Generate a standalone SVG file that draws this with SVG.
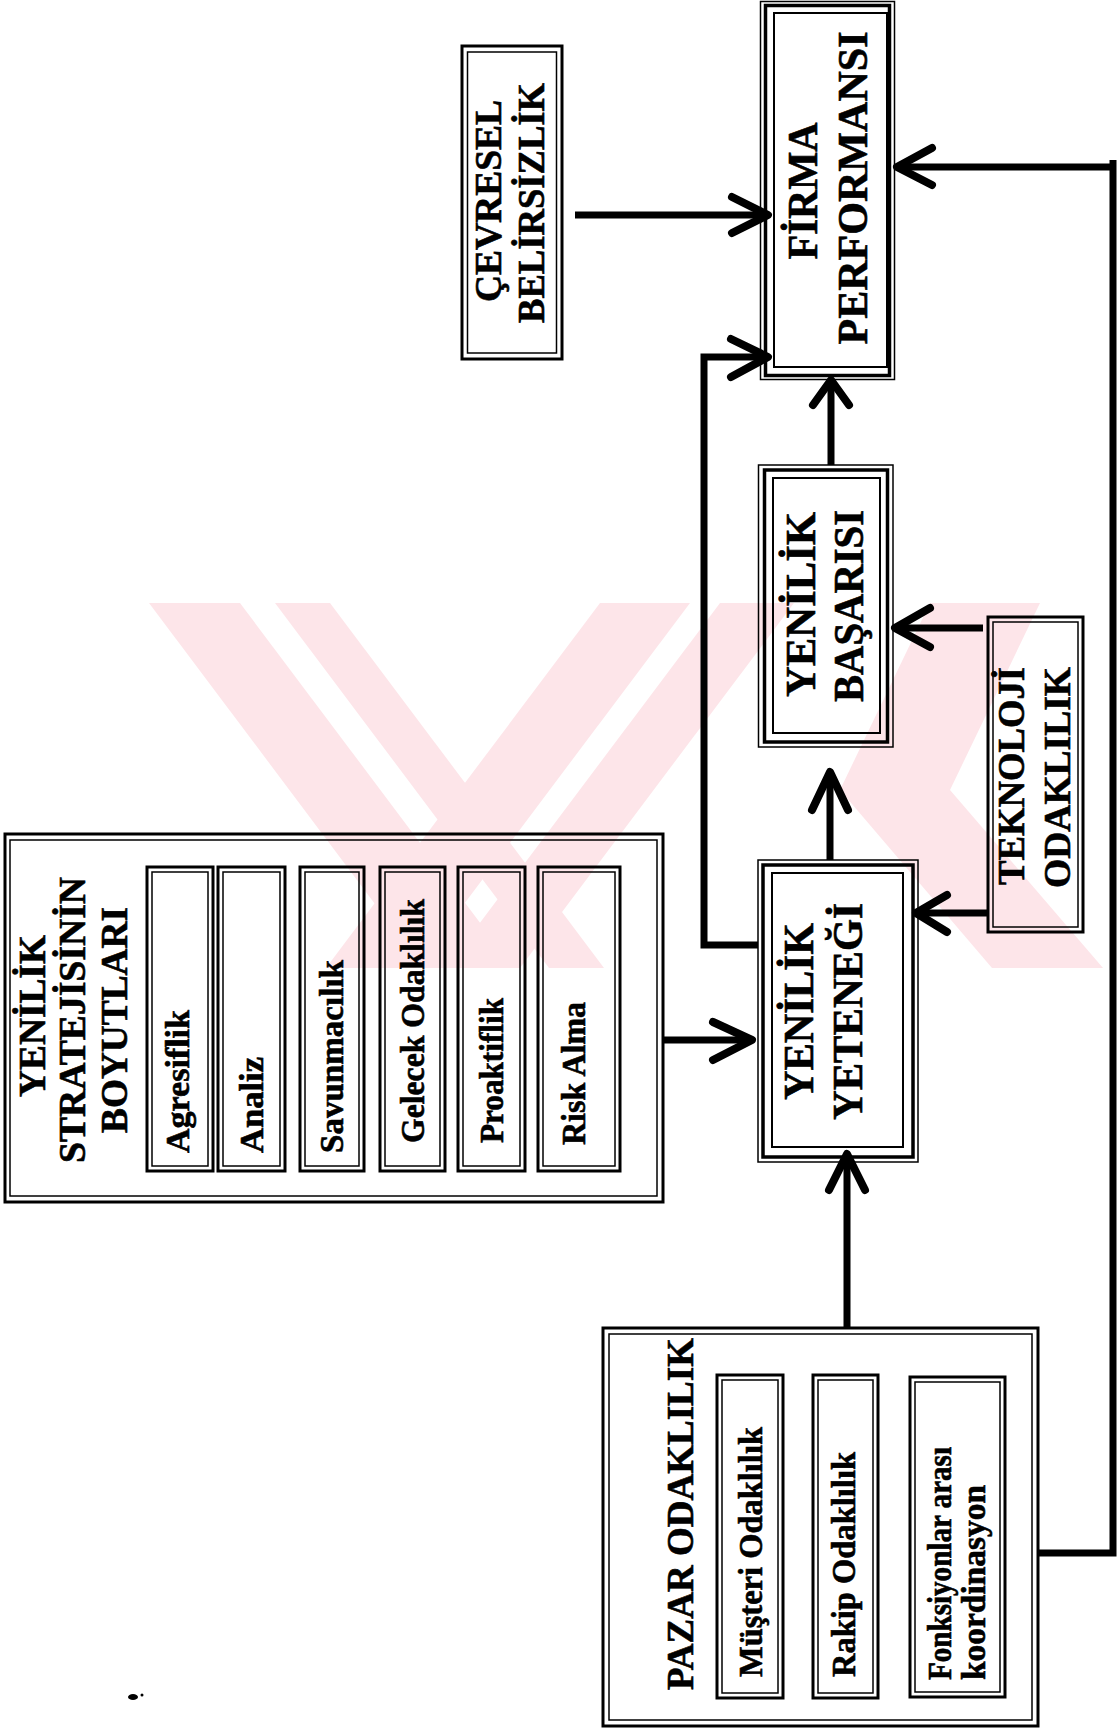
<svg xmlns="http://www.w3.org/2000/svg" width="1118" height="1729" viewBox="0 0 1118 1729">
<style>
.t{font-family:"Liberation Serif","Times New Roman",serif;font-weight:bold;fill:#000;stroke:#000;stroke-width:0.6}
.h{font-size:37px}
.b{font-size:42px}
.s{font-size:33px}
.o{fill:none;stroke:#000;stroke-width:3}
.i{fill:none;stroke:#000;stroke-width:1.5}
.m{fill:none;stroke:#000;stroke-width:3.5}
.ln{fill:none;stroke:#000;stroke-width:7}
.hd{fill:none;stroke:#000;stroke-width:8;stroke-linecap:round;stroke-linejoin:round}
.wm{fill:#fde5e9;stroke:none}
</style>
<defs>
<clipPath id="band"><rect x="0" y="603" width="1118" height="365"/></clipPath>
</defs>
<rect width="1118" height="1729" fill="#fff"/>

<g id="watermark" clip-path="url(#band)">
<polygon class="wm" points="149,603 240,603 514,968 423,968"/>
<polygon class="wm" points="275,603 330,603 604,968 549,968"/>
<polygon class="wm" points="720,603 794,603 520,968 446,968"/>
<polygon class="wm" points="600,603 690,603 416,968 326,968"/>
<polygon class="wm" points="930,603 1040,603 950,790 840,790"/>
<polygon class="wm" points="840,790 950,790 1103,968 992,968"/>
</g>

<g id="firma">
<rect class="i" x="760.5" y="1.5" width="134" height="378"/>
<rect class="m" x="765.5" y="5.5" width="124" height="370"/>
<rect class="i" x="774" y="13" width="113" height="354" style="stroke-width:2"/>
<text class="t b" transform="translate(817,191) rotate(-90)" text-anchor="middle" textLength="137" lengthAdjust="spacingAndGlyphs">FİRMA</text>
<text class="t b" transform="translate(867,188) rotate(-90)" text-anchor="middle" textLength="313" lengthAdjust="spacingAndGlyphs">PERFORMANSI</text>
</g>

<g id="cevresel">
<rect class="o" x="462" y="46" width="100" height="313"/>
<rect class="i" x="467.5" y="52" width="89" height="301"/>
<text class="t h" transform="translate(501,201) rotate(-90)" text-anchor="middle" textLength="202" lengthAdjust="spacingAndGlyphs">ÇEVRESEL</text>
<text class="t h" transform="translate(544,203) rotate(-90)" text-anchor="middle" textLength="240" lengthAdjust="spacingAndGlyphs">BELİRSİZLİK</text>
</g>

<g id="basari">
<rect class="i" x="758.5" y="465" width="134.5" height="282"/>
<rect class="m" x="764.5" y="470" width="123" height="272"/>
<rect class="i" x="773" y="478" width="107" height="255" style="stroke-width:2"/>
<text class="t b" transform="translate(815,604.5) rotate(-90)" text-anchor="middle" textLength="185" lengthAdjust="spacingAndGlyphs">YENİLİK</text>
<text class="t b" transform="translate(863,606) rotate(-90)" text-anchor="middle" textLength="192" lengthAdjust="spacingAndGlyphs">BAŞARISI</text>
</g>

<g id="teknoloji">
<rect class="o" x="988" y="617" width="95" height="315" fill="#fff"/>
<rect class="i" x="993" y="622" width="85" height="305"/>
<text class="t h" transform="translate(1024,776) rotate(-90)" text-anchor="middle" textLength="218" lengthAdjust="spacingAndGlyphs">TEKNOLOJİ</text>
<text class="t h" transform="translate(1070,777.5) rotate(-90)" text-anchor="middle" textLength="221" lengthAdjust="spacingAndGlyphs">ODAKLILIK</text>
</g>

<g id="yetenek">
<rect class="i" x="758" y="860" width="160" height="302"/>
<rect class="m" x="763" y="865" width="150" height="292"/>
<rect class="i" x="772" y="873" width="131" height="274" style="stroke-width:2"/>
<text class="t b" transform="translate(813,1011.5) rotate(-90)" text-anchor="middle" textLength="177" lengthAdjust="spacingAndGlyphs">YENİLİK</text>
<text class="t b" transform="translate(862,1011.5) rotate(-90)" text-anchor="middle" textLength="217" lengthAdjust="spacingAndGlyphs">YETENEĞİ</text>
</g>

<g id="strateji">
<rect class="o" x="5" y="834" width="658" height="368"/>
<rect class="i" x="10" y="840" width="647" height="356"/>
<text class="t h" transform="translate(45,1016) rotate(-90)" text-anchor="middle" textLength="162" lengthAdjust="spacingAndGlyphs">YENİLİK</text>
<text class="t h" transform="translate(85,1020) rotate(-90)" text-anchor="middle" textLength="286" lengthAdjust="spacingAndGlyphs">STRATEJİSİNİN</text>
<text class="t h" transform="translate(127,1020) rotate(-90)" text-anchor="middle" textLength="226" lengthAdjust="spacingAndGlyphs">BOYUTLARI</text>
<g id="agresiflik">
<rect class="o" x="147" y="867" width="66" height="304"/>
<rect class="i" x="152" y="872" width="56" height="294"/>
<text class="t s" transform="translate(189,1153) rotate(-90)" textLength="143" lengthAdjust="spacingAndGlyphs">Agresiflik</text>
</g>
<g id="analiz">
<rect class="o" x="218" y="867" width="67" height="304"/>
<rect class="i" x="223" y="872" width="57" height="294"/>
<text class="t s" transform="translate(263,1153) rotate(-90)" textLength="96" lengthAdjust="spacingAndGlyphs">Analiz</text>
</g>
<g id="savunmacilik">
<rect class="o" x="300" y="867" width="64" height="304"/>
<rect class="i" x="305" y="872" width="54" height="294"/>
<text class="t s" transform="translate(343,1153) rotate(-90)" textLength="193" lengthAdjust="spacingAndGlyphs">Savunmacılık</text>
</g>
<g id="gelecek">
<rect class="o" x="380" y="867" width="65" height="304"/>
<rect class="i" x="385" y="872" width="55" height="294"/>
<text class="t s" transform="translate(424,1143) rotate(-90)" textLength="244" lengthAdjust="spacingAndGlyphs">Gelecek Odaklılık</text>
</g>
<g id="proaktiflik">
<rect class="o" x="458" y="867" width="67" height="304"/>
<rect class="i" x="463" y="872" width="57" height="294"/>
<text class="t s" transform="translate(503,1143) rotate(-90)" textLength="145" lengthAdjust="spacingAndGlyphs">Proaktiflik</text>
</g>
<g id="riskalma">
<rect class="o" x="538" y="867" width="82" height="304"/>
<rect class="i" x="543" y="872" width="72" height="294"/>
<text class="t s" transform="translate(585,1145) rotate(-90)" textLength="143" lengthAdjust="spacingAndGlyphs">Risk Alma</text>
</g>
</g>

<g id="pazar">
<rect class="o" x="603" y="1328" width="435" height="398"/>
<rect class="i" x="609" y="1334" width="423" height="386"/>
<text class="t h" transform="translate(693,1690) rotate(-90)" textLength="352" lengthAdjust="spacingAndGlyphs">PAZAR ODAKLILIK</text>
<g id="musteri">
<rect class="o" x="717" y="1375" width="66" height="323"/>
<rect class="i" x="722" y="1380" width="56" height="313"/>
<text class="t s" transform="translate(762,1677) rotate(-90)" textLength="250" lengthAdjust="spacingAndGlyphs">Müşteri Odaklılık</text>
</g>
<g id="rakip">
<rect class="o" x="813" y="1375" width="65" height="323"/>
<rect class="i" x="818" y="1380" width="55" height="313"/>
<text class="t s" transform="translate(855,1677) rotate(-90)" textLength="225" lengthAdjust="spacingAndGlyphs">Rakip Odaklılık</text>
</g>
<g id="fonksiyonlar">
<rect class="o" x="910" y="1377" width="95" height="320"/>
<rect class="i" x="915" y="1382" width="85" height="310"/>
<text class="t s" transform="translate(951,1680) rotate(-90)" textLength="233" lengthAdjust="spacingAndGlyphs">Fonksiyonlar arası</text>
<text class="t s" transform="translate(985,1680) rotate(-90)" textLength="195" lengthAdjust="spacingAndGlyphs">koordinasyon</text>
</g>
</g>

<g id="connectors">
<line class="ln" x1="575" y1="215" x2="766" y2="215"/>
<polyline class="hd" points="732,197 768,215 732,233"/>
<line class="ln" x1="831" y1="465" x2="831" y2="383"/>
<polyline class="hd" points="813,405 831,380 849,405"/>
<line class="ln" x1="830" y1="860" x2="830" y2="775"/>
<polyline class="hd" points="812,810 830,772 848,810"/>
<line class="ln" x1="983" y1="628" x2="898" y2="628"/>
<polyline class="hd" points="930,608 895,628 930,647"/>
<line class="ln" x1="988" y1="913" x2="918" y2="913"/>
<polyline class="hd" points="947,895 916,913 947,932"/>
<line class="ln" x1="663" y1="1040" x2="750" y2="1040"/>
<polyline class="hd" points="713,1022 752,1040 713,1060"/>
<line class="ln" x1="847" y1="1328" x2="847" y2="1158"/>
<polyline class="hd" points="829,1190 847,1154 865,1190"/>
<polyline class="ln" points="758,945 704,945 704,357 765,357"/>
<polyline class="hd" points="731,339 768,357 731,377"/>
<polyline class="ln" points="1038,1553 1113,1553 1113,160"/>
<line class="ln" x1="1116" y1="167" x2="899" y2="167"/>
<polyline class="hd" points="932,148 897,167 932,185"/>
</g>

<g id="speck" fill="#000">
<ellipse cx="133" cy="1697" rx="5" ry="3"/>
<circle cx="142" cy="1695" r="1.5"/>
</g>
</svg>
